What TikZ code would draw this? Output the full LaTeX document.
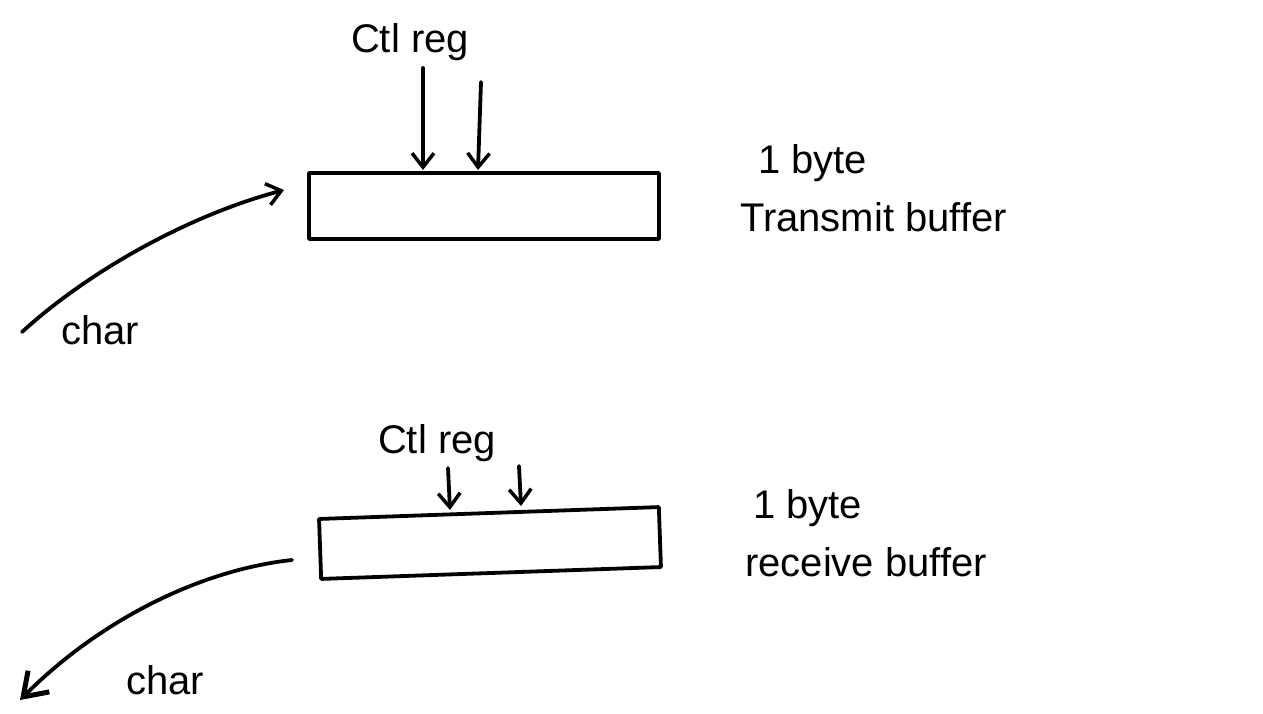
\documentclass[tikz,border=0pt]{standalone}
\usepackage{fontspec}
\setmainfont{Liberation Sans}
\usetikzlibrary{arrows.meta}
\tikzset{
  ink/.style={line width=3.8pt, line cap=round, line join=round},
  arr/.style={ink, -{Straight Barb[length=14pt,width=22pt,line width=3.5pt]}},
  bigarr/.style={ink, -{Straight Barb[length=22pt,width=30pt,line width=5pt]}},
  lbl/.style={font=\fontsize{40}{58}\selectfont, inner sep=0pt},
  buf/.style={ink, draw, minimum width=350pt, minimum height=66pt}
}
\begin{document}
\begin{tikzpicture}[x=1pt,y=-1pt]
\useasboundingbox (0,0) rectangle (1263,713);
% transmit side
\node[lbl] (ctl1) at (410,42) {Ctl reg};
\coordinate (ctl1a) at (423,68);
\coordinate (ctl1b) at (481,82);
\node[buf] (tx) at (484,206) {};
\draw[arr] (ctl1a) -- (423,170);
\draw[arr] (ctl1b) -- (478,170);
\node[lbl, align=left, anchor=west] (txl) at (740,188) {\hspace{18pt}1 byte\\Transmit buffer};
\node[lbl] (char1) at (100,330) {char};
\coordinate (c1s) at (22,332);
\coordinate (tip1) at (284,190);
\draw[arr] (c1s) .. controls (90,270) and (190,215) .. (tip1);
% receive side
\node[lbl] (ctl2) at (437,443) {Ctl reg};
\node[buf, minimum width=340pt, minimum height=60pt, rotate=2] (rx) at (490,543) {};
\draw[arr] (448,468) -- (450,510);
\draw[arr] (519,466) -- (521,506);
\node[lbl, align=left, anchor=west] (rxl) at (745,533) {\hspace{8pt}1 byte\\receive buffer};
\coordinate (c2s) at (292,560);
\coordinate (c2e) at (20,700);
\draw[bigarr] (c2s) .. controls (200,570) and (100,620) .. (c2e);
\node[lbl] (char2) at (165,680) {char};
\end{tikzpicture}
\end{document}
